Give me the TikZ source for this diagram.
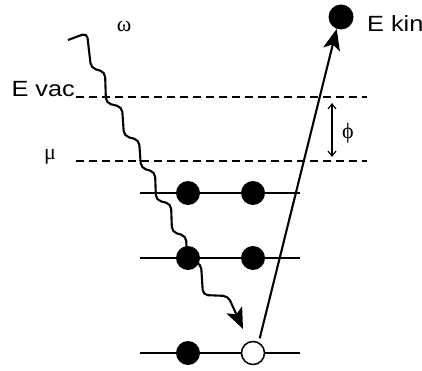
\documentclass[tikz,border=0pt]{standalone}
\usepackage{fontspec}
\setmainfont{Liberation Sans}
\newfontfamily\grego{Liberation Serif}
\usetikzlibrary{arrows.meta}

\tikzset{
  nivel/.style={line width=1.4pt},
  vacuo/.style={line width=1.2pt, dash pattern=on 8pt off 5pt},
  eletron/.style={circle, fill=black, minimum size=24pt, inner sep=0pt},
  buraco/.style={circle, draw=black, fill=white, line width=1.5pt, minimum size=23pt, inner sep=0pt},
  rotulo/.style={font=\fontsize{22}{26}\selectfont, inner sep=0pt},
  seta/.style={line width=2.1pt, -{Stealth[length=21pt, width=17pt, inset=5pt]}}
}

\begin{document}
\begin{tikzpicture}[x=1pt, y=-1pt]
  \useasboundingbox (0,0) rectangle (422,371);

  % Níveis de vácuo e potencial químico
  \coordinate (vacL) at (76,97);  \coordinate (vacR) at (367,97);
  \coordinate (muL)  at (76,161); \coordinate (muR)  at (367,161);
  \draw[vacuo] (vacL) -- (vacR);
  \draw[vacuo] (muL) -- (muR);
  \node[rotulo, anchor=base east] (evac) at (75,97) {\scalebox{1.15}[1]{E vac}};
  \node[rotulo] (mu) at (50,157) {\grego μ};

  % Níveis ocupados
  \foreach \y in {193,258,353}
    \draw[nivel] (140,\y) -- (300,\y);

  % Fóton
  \draw[seta, rounded corners=5pt] (68,40) -- (87,33) -- (91,68) -- (105,72)
    -- (106,103) -- (122,107) -- (124,136) -- (139,140) -- (141,168)
    -- (155,172) -- (156,200) -- (171,204) -- (172,232) -- (186,236)
    -- (187,258) -- (201,264) -- (203,295) -- (228,296) -- (243,329);
  \node[rotulo] (omega) at (124,26) {\grego ω};

  % Elétrons e buraco
  \node[eletron] (a1) at (188,193) {};
  \node[eletron] (b1) at (253,193) {};
  \node[eletron] (a2) at (188,258) {};
  \node[eletron] (b2) at (253,258) {};
  \node[eletron] (a3) at (188,353) {};
  \node[buraco]  (hole) at (253,353) {};

  % Fotoelétron
  \node[eletron, minimum size=25pt] (kin) at (341,17) {};
  \node[rotulo, anchor=base west] (ekin) at (367,32) {\scalebox{1.15}[1]{E kin}};
  \draw[seta, shorten <=4pt] (hole.62) -- (kin.250);

  % Função trabalho
  \coordinate (phitop) at (332,103);
  \coordinate (phibot) at (332,157);
  \draw[line width=1.2pt, {Straight Barb[length=5pt, width=8pt]}-{Straight Barb[length=5pt, width=8pt]}] (phitop) -- (phibot);
  \node[rotulo] (phi) at (348,133) {\grego ϕ};
\end{tikzpicture}
\end{document}
